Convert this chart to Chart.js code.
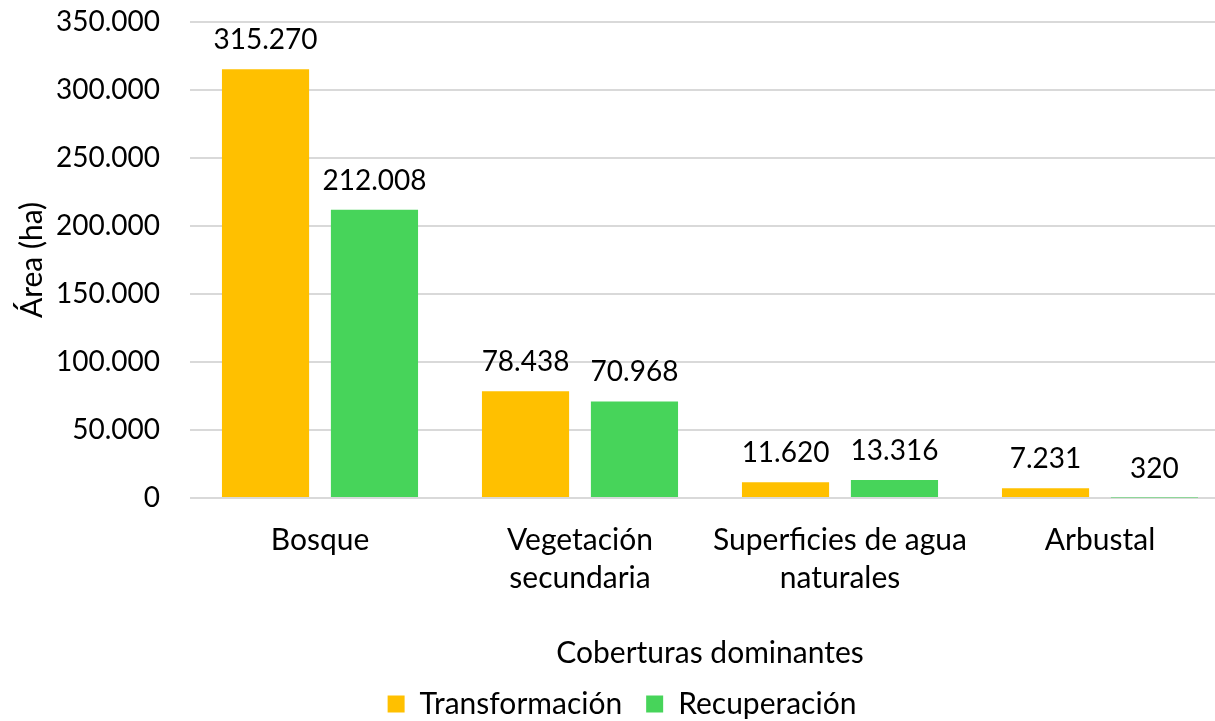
<!DOCTYPE html>
<html>
<head>
<meta charset="utf-8">
<script src="https://cdn.jsdelivr.net/npm/chart.js@4/dist/chart.umd.min.js"></script>
<style>
html,body{margin:0;padding:0;background:#fff;overflow:hidden;width:1215px;height:721px;}
canvas{display:block;}
</style>
</head>
<body>
<canvas id="c" width="1240" height="721"></canvas>
<script>
const categories = ["Bosque", ["Vegetación","secundaria"], ["Superficies de agua","naturales"], "Arbustal"];
const transformacion = [315270, 78438, 11620, 7231];
const recuperacion = [212008, 70968, 13316, 320];
const yTicks = [0, 50000, 100000, 150000, 200000, 250000, 300000, 350000];

const FONT = "Lato, 'Open Sans', sans-serif";
function fmt(v){ return String(Math.round(v)).replace(/\B(?=(\d{3})+(?!\d))/g, "."); }

const labelPlugin = {
  id: 'valueLabels',
  afterDatasetsDraw(chart){
    const ctx = chart.ctx;
    ctx.save();
    ctx.font = "28px " + FONT;
    ctx.fillStyle = "#000";
    ctx.textAlign = "center";
    ctx.textBaseline = "alphabetic";
    chart.data.datasets.forEach((ds, i) => {
      chart.getDatasetMeta(i).data.forEach((el, j) => {
        ctx.fillText(fmt(ds.data[j]), el.x, el.y - 20);
      });
    });
    ctx.restore();
  }
};

new Chart(document.getElementById('c'), {
  type: 'bar',
  data: {
    labels: categories,
    datasets: [
      {label: "Transformación", data: transformacion, backgroundColor: "#FFC000", categoryPercentage: 0.838, barPercentage: 0.8},
      {label: "Recuperación", data: recuperacion, backgroundColor: "#47D45A", categoryPercentage: 0.838, barPercentage: 0.8}
    ]
  },
  options: {
    responsive: false,
    animation: false,
    layout: {padding: {left: 14, right: 10, top: 0, bottom: -8}},
    plugins: {
      legend: {
        position: 'bottom',
        labels: {font: {family: FONT, size: 30}, color: "#000", boxWidth: 17, boxHeight: 17, padding: 24}
      },
      tooltip: {enabled: false}
    },
    scales: {
      x: {
        grid: {display: false, drawTicks: false},
        border: {display: false},
        ticks: {font: {family: FONT, size: 30, lineHeight: 1.27}, color: "#000", padding: 23, maxRotation: 0, autoSkip: false},
        title: {display: true, text: "Coberturas dominantes", font: {family: FONT, size: 30}, color: "#000", padding: {top: 30, bottom: -6}},
        afterFit(s){ s.height = 167; }
      },
      y: {
        min: 0, max: 350000,
        afterBuildTicks(s){ s.ticks = yTicks.map(v => ({value: v})); },
        grid: {color: "#D9D9D9", lineWidth: 2, drawTicks: false},
        border: {display: false},
        ticks: {font: {family: FONT, size: 28}, color: "#000", padding: 30, callback: v => fmt(v)},
        title: {display: true, text: "Área (ha)", font: {family: FONT, size: 30}, color: "#000", padding: 0},
        afterFit(s){ s.width = 176; s.paddingTop = 22; }
      }
    }
  },
  plugins: [labelPlugin]
});
</script>
</body>
</html>
